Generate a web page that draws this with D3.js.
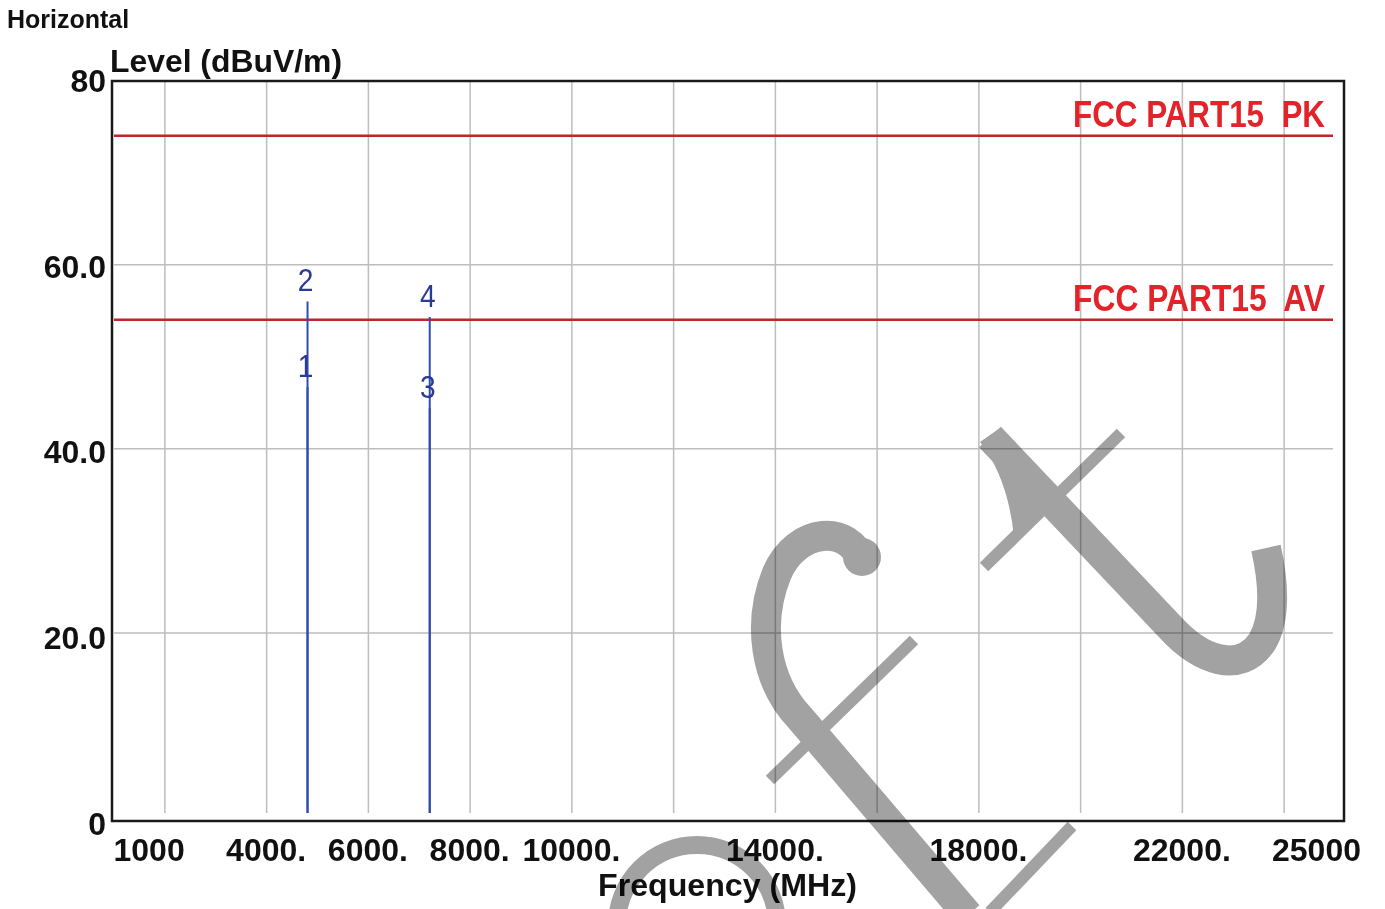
<!DOCTYPE html>
<html>
<head>
<meta charset="utf-8">
<script src="https://cdn.jsdelivr.net/npm/d3@7"></script>
<style>
  html, body { margin: 0; padding: 0; background: #fff; }
  svg { display: block; font-family: "Liberation Sans", Arial, sans-serif; }
</style>
</head>
<body>
<svg id="chart" width="1385" height="909"></svg>
<script>
// ---- data ----
const freqTicks = [1000, 4000, 6000, 8000, 10000, 14000, 18000, 22000, 25000];
const freqTickLabels = ["1000", "4000.", "6000.", "8000.", "10000.", "14000.", "18000.", "22000.", "25000"];
const gridFreqs = [2000, 4000, 6000, 8000, 10000, 12000, 14000, 16000, 18000, 20000, 22000, 24000];
const levelTicks = [0, 20, 40, 60, 80];
const levelTickLabels = ["0", "20.0", "40.0", "60.0", "80"];
const gridLevels = [20, 40, 60];
const limitNames = ["FCC PART15  PK", "FCC PART15  AV"];
const limitLevels = [74, 54];
const markerIds = [1, 2, 3, 4];
const markerFreqs = [4804, 4804, 7206, 7206];
const markerLevels = [46.7, 56.0, 44.4, 54.3];

// ---- layout ----
const svg = d3.select("#chart");
const x = d3.scaleLinear().domain([1000, 25000]).range([114, 1335]);
const y = d3.scaleLinear().domain([0, 80]).range([817, 80.5]);
const frame = { left: 112, top: 81, right: 1344, bottom: 821 };

svg.append("rect").attr("width", 1385).attr("height", 909).attr("fill", "#fff");

// grid
const grid = svg.append("g");
grid.selectAll("line.v").data(gridFreqs).join("line")
  .attr("x1", d => x(d)).attr("x2", d => x(d))
  .attr("y1", y(80)).attr("y2", y(0) - 4)
  .attr("stroke", "#bdbdbd").attr("stroke-width", 1.5);
grid.selectAll("line.h").data(gridLevels).join("line")
  .attr("x1", x(1000)).attr("x2", x(25000) - 2)
  .attr("y1", d => y(d)).attr("y2", d => y(d))
  .attr("stroke", "#bdbdbd").attr("stroke-width", 1.5);

// limit lines
const limits = limitNames.map((n, i) => ({ name: n, level: limitLevels[i] }));
svg.selectAll("line.limit").data(limits).join("line")
  .attr("x1", x(1000)).attr("x2", x(25000) - 2)
  .attr("y1", d => y(d.level)).attr("y2", d => y(d.level))
  .attr("stroke", "#bf262c").attr("stroke-width", 2.5);
svg.selectAll("text.limit").data(limits).join("text")
  .attr("x", x(25000) - 262).attr("y", d => y(d.level) - 9)
  .attr("font-size", 37).attr("font-weight", "bold")
  .attr("textLength", 252).attr("lengthAdjust", "spacingAndGlyphs")
  .style("white-space", "pre")
  .attr("fill", "#e3232a")
  .text(d => d.name);

// markers
const markers = markerIds.map((id, i) => ({ id, f: markerFreqs[i], v: markerLevels[i] }));
svg.selectAll("line.marker").data(markers).join("line")
  .attr("x1", d => x(d.f)).attr("x2", d => x(d.f))
  .attr("y1", y(0) - 4).attr("y2", d => y(d.v))
  .attr("stroke", "#2f4db0").attr("stroke-width", 2);
svg.selectAll("text.marker").data(markers).join("text")
  .attr("x", d => x(d.f) - 2).attr("y", d => y(d.v) - 10)
  .attr("text-anchor", "middle")
  .attr("font-size", 32)
  .attr("transform", d => `translate(${x(d.f) - 2},0) scale(0.88,1) translate(${-(x(d.f) - 2)},0)`)
  .attr("fill", "#2b3a95")
  .text(d => d.id);

// frame
svg.append("rect")
  .attr("x", frame.left).attr("y", frame.top)
  .attr("width", frame.right - frame.left).attr("height", frame.bottom - frame.top)
  .attr("fill", "none").attr("stroke", "#1a1a1a").attr("stroke-width", 2.5);

// x axis
const xAxis = d3.axisBottom(x).tickValues(freqTicks)
  .tickFormat((d, i) => freqTickLabels[i]).tickSize(0);
const gx = svg.append("g").attr("transform", `translate(0,${frame.bottom})`).call(xAxis);
gx.select(".domain").remove();
gx.selectAll("text")
  .attr("y", 40).attr("dy", 0)
  .attr("font-size", 32).attr("font-weight", "bold").attr("fill", "#111")
  .attr("font-family", "Liberation Sans, Arial, sans-serif")
  .attr("text-anchor", (d, i) => i === 0 ? "start" : "middle")
  .attr("dx", (d, i) => i === 0 ? -1 : (i === freqTicks.length - 1 ? -19 : -1));

// y axis
const yAxis = d3.axisLeft(y).tickValues(levelTicks)
  .tickFormat((d, i) => levelTickLabels[i]).tickSize(0);
const gy = svg.append("g").attr("transform", `translate(${frame.left},0)`).call(yAxis);
gy.select(".domain").remove();
gy.selectAll("text")
  .attr("x", -6).attr("dy", 0)
  .attr("y", d => 11 + (80 - d) * 0.08)
  .attr("font-size", 32).attr("font-weight", "bold").attr("fill", "#111")
  .attr("font-family", "Liberation Sans, Arial, sans-serif")
  .attr("text-anchor", "end");

// titles
svg.append("text").attr("x", 7).attr("y", 28)
  .attr("font-size", 25).attr("font-weight", "bold").attr("fill", "#111")
  .text("Horizontal");
svg.append("text").attr("x", 110).attr("y", 72)
  .attr("font-size", 32).attr("font-weight", "bold").attr("fill", "#111")
  .attr("textLength", 232).attr("lengthAdjust", "spacingAndGlyphs")
  .text("Level (dBuV/m)");
svg.append("text").attr("x", 598).attr("y", 896)
  .attr("font-size", 32).attr("font-weight", "bold").attr("fill", "#111")
  .attr("textLength", 259).attr("lengthAdjust", "spacingAndGlyphs")
  .text("Frequency (MHz)");

// decorative watermark (not data)
const wmc = "#a2a2a2";
const wm = svg.append("g").attr("fill", "none").attr("stroke", wmc)
  .style("mix-blend-mode", "multiply");
wm.append("path").attr("d", "M 862,562 C 850,524 797,527 777,573 C 757,622 764,680 800,718 L 968,915")
  .attr("stroke-width", 30);
wm.append("circle").attr("cx", 862).attr("cy", 557).attr("r", 19).attr("fill", wmc).attr("stroke", "none");
wm.append("path").attr("d", "M 770,780 L 914,640").attr("stroke-width", 12);
wm.append("path").attr("d", "M 1072,826 L 990,912").attr("stroke-width", 12);
wm.append("path").attr("d", "M 990,437 L 1170,627 C 1200,660 1240,675 1262,642 C 1278,615 1272,575 1266,548")
  .attr("stroke-width", 30);
wm.append("path").attr("d", "M 980,442 Q 1008,478 1014,537 L 1048,503 L 1000,428 Z").attr("fill", wmc).attr("stroke", "none");
wm.append("path").attr("d", "M 1121,433 L 984,567").attr("stroke-width", 12);
wm.append("path").attr("d", "M 617,925 A 79,79 0 0 1 777,925").attr("stroke-width", 18);
</script>
</body>
</html>
